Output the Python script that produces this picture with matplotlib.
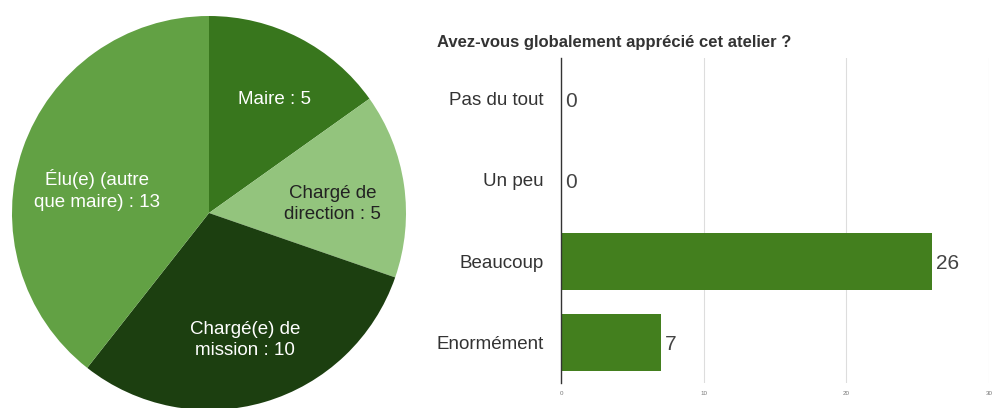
import matplotlib
matplotlib.use("Agg")
from matplotlib import pyplot as plt

plt.rcParams["font.family"] = ["Liberation Sans", "DejaVu Sans"]

# donnees camembert (profil des participants)
pie_labels = ["Maire : 5", "Chargé de\ndirection : 5", "Chargé(e) de\nmission : 10", "Élu(e) (autre\nque maire) : 13"]
pie_values = [5, 5, 10, 13]
pie_colors = ["#38761d", "#93c47d", "#1c3f10", "#62a144"]
pie_txt = ["white", "#222222", "white", "white"]

# donnees barres
bar_title = "Avez-vous globalement apprécié cet atelier ?"
categories = ["Pas du tout", "Un peu", "Beaucoup", "Enormément"]
counts = [0, 0, 26, 7]
xticks = [0, 10, 20, 30]

W, H = 997, 408
fig = plt.figure(figsize=(W / 100, H / 100), dpi=100)
fig.patch.set_facecolor("white")

# camembert
cx, cy, r = 209, 213, 197
ax1 = fig.add_axes([(cx - r) / W, (H - cy - r) / H, 2 * r / W, 2 * r / H])
wedges, texts = ax1.pie(pie_values, labels=pie_labels, colors=pie_colors,
                        startangle=90, counterclock=False, labeldistance=0.64,
                        wedgeprops=dict(linewidth=0),
                        textprops=dict(fontsize=13.5, ha="center", va="center",
                                       linespacing=1.35))
# petits decalages des etiquettes (placement facon google charts)
lab_pos = [(0.335, 0.574), (0.629, 0.046), (0.183, -0.645), (-0.57, 0.117)]
for t, c, p in zip(texts, pie_txt, lab_pos):
    t.set_color(c)
    t.set_horizontalalignment("center")
    t.set_position(p)
ax1.set_xlim(-1, 1)
ax1.set_ylim(-1, 1)
ax1.set_aspect("equal")

# barres
ax2 = fig.add_axes([561 / W, 1 - 383 / H, 428 / W, 325 / H])
y = list(range(len(categories)))
ax2.barh(y, counts, height=0.7, color="#437f1e", zorder=3)
ax2.set_ylim(len(categories) - 0.5, -0.5)
ax2.set_xlim(0, 30)
ax2.set_yticks(y)
ax2.set_yticklabels(categories, fontsize=13.5, color="#333333")
ax2.set_xticks(xticks)
ax2.set_xticklabels([str(v) for v in xticks], fontsize=4.5, color="#777777")
ax2.tick_params(axis="y", length=0, pad=12.5)
ax2.tick_params(axis="x", length=0, pad=6)
ax2.grid(axis="x", color="#dddddd", linewidth=0.8, zorder=0)
for s in ["top", "right", "bottom"]:
    ax2.spines[s].set_visible(False)
ax2.spines["left"].set_color("#333333")
ax2.spines["left"].set_linewidth(1)
ax2.spines["left"].set_zorder(4)
for yi, v in zip(y, counts):
    ax2.text(v + 0.3, yi + 0.03, str(v), ha="left", va="center", fontsize=15, color="#444444")

fig.text(437 / W, 1 - 42 / H, bar_title, fontsize=12, fontweight="bold",
         color="#333333", ha="left", va="center")

fig.savefig("out.png", dpi=100)
